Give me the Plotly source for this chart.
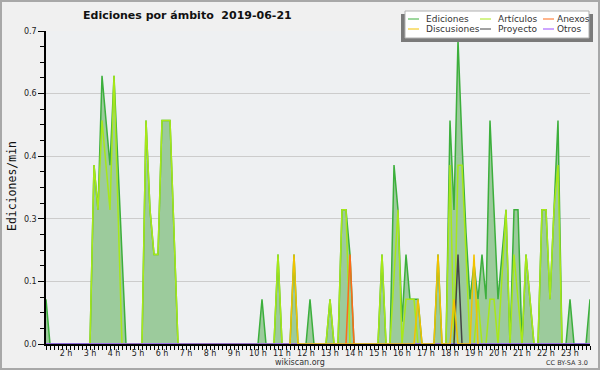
import plotly.graph_objects as go

# ---- data (minutes since 00:00, edits per minute) ----
ed_t = [70, 80,
        180, 190, 200, 210, 220, 230, 240, 250, 260, 270,
        310, 320, 330, 340, 350, 360, 370, 380, 390, 400,
        600, 610, 620,
        640, 650, 660,
        680, 690, 700,
        720, 730, 740,
        770, 780, 790,
        800, 810, 820, 830, 840,
        900, 910, 920,
        930, 940, 950, 960, 970, 980, 990, 1000, 1010,
        1040, 1050, 1060,
        1070, 1080, 1090, 1100, 1110, 1120, 1130, 1140, 1150, 1160, 1170, 1180,
        1190, 1200, 1210, 1220, 1230, 1240, 1250, 1260, 1270, 1280, 1290,
        1300, 1310, 1320, 1330, 1340, 1350, 1360,
        1370, 1380, 1390,
        1420, 1430]
ed_v = [0.1, 0,
        0, 0.4, 0.3, 0.6, 0.5, 0.4, 0.6, 0.4, 0.2, 0,
        0, 0.5, 0.3, 0.2, 0.2, 0.5, 0.5, 0.5, 0.25, 0,
        0, 0.1, 0,
        0, 0.2, 0,
        0, 0.2, 0,
        0, 0.1, 0,
        0, 0.1, 0,
        0, 0.3, 0.3, 0.2, 0,
        0, 0.2, 0,
        0, 0.4, 0.3, 0.05, 0.2, 0.1, 0.1, 0.1, 0,
        0, 0.2, 0,
        0, 0.5, 0.3, 0.68, 0.45, 0.25, 0.1, 0.18, 0.1, 0.2, 0.1, 0.5,
        0.3, 0.1, 0.2, 0.3, 0, 0.3, 0.3, 0, 0.2, 0.1, 0,
        0, 0.3, 0.3, 0.1, 0.3, 0.5, 0,
        0, 0.1, 0,
        0, 0.1]

art_t = [180, 190, 200, 210, 220, 230, 240, 250, 260,
         310, 320, 330, 340, 350, 360, 370, 380, 390, 400,
         640, 650, 660,
         770, 780, 790,
         800, 810, 820, 830,
         900, 910, 920,
         930, 940, 950, 960, 970, 980, 990, 1000,
         1070, 1080, 1090, 1100, 1110, 1120, 1130, 1140, 1150, 1160, 1170, 1180,
         1190, 1200, 1210, 1220, 1230, 1240, 1250, 1260, 1270, 1280, 1290,
         1300, 1310, 1320, 1330, 1340, 1350, 1360]
art_v = [0, 0.4, 0.3, 0.5, 0.4, 0.3, 0.6, 0.3, 0,
         0, 0.5, 0.3, 0.2, 0.2, 0.5, 0.5, 0.5, 0.25, 0,
         0, 0.2, 0,
         0, 0.1, 0,
         0, 0.3, 0.3, 0,
         0, 0.2, 0,
         0, 0.15, 0.3, 0, 0.1, 0.1, 0.1, 0,
         0, 0.4, 0, 0.4, 0.4, 0.2, 0, 0, 0.1, 0, 0, 0.1,
         0.1, 0, 0.15, 0.3, 0, 0.2, 0.1, 0, 0.2, 0.1, 0,
         0, 0.3, 0.3, 0.1, 0.3, 0.4, 0]

anx_t = [820, 830, 840]
anx_v = [0, 0.2, 0]

disc_t = [680, 690, 700, 990, 1000, 1010, 1040, 1050, 1060, 1080, 1090, 1100, 1130, 1140, 1150]
disc_v = [0, 0.2, 0, 0, 0.1, 0, 0, 0.2, 0, 0, 0.1, 0, 0, 0.2, 0]

proy_t = [1090, 1100, 1110]
proy_v = [0, 0.2, 0]

otros_t = [70, 1430]
otros_v = [0, 0]

hour_ticks = list(range(2, 24))
y_tickvals = [0, 0.14, 0.28, 0.42, 0.56, 0.7]
y_ticktext = ["0.0", "0.1", "0.3", "0.4", "0.6", "0.7"]

names = ["Ediciones", "Artículos", "Anexos", "Discusiones", "Proyecto", "Otros"]
colors = {"Ediciones": "#3caf3c", "Artículos": "#a8e818", "Anexos": "#ff6a1a",
          "Discusiones": "#f2c200", "Proyecto": "#444444", "Otros": "#9b4dff"}

# ---- figure ----
W, H = 600, 370
L, R, T, B = 46, 10, 31, 26
PW, PH = W - L - R, H - T - B


def px(x):
    return (x - L) / PW


def py(y):
    return (H - B - y) / PH


fig = go.Figure()
fig.add_trace(go.Scatter(x=ed_t, y=ed_v, mode="lines", name="Ediciones",
                         line=dict(color=colors["Ediciones"], width=1.5),
                         fill="tozeroy", fillcolor="#9ccb9c"))
fig.add_trace(go.Scatter(x=art_t, y=art_v, mode="lines", name="Artículos",
                         line=dict(color=colors["Artículos"], width=1.5)))
fig.add_trace(go.Scatter(x=otros_t, y=otros_v, mode="lines", name="Otros",
                         line=dict(color=colors["Otros"], width=1.5)))
fig.add_trace(go.Scatter(x=proy_t, y=proy_v, mode="lines", name="Proyecto",
                         line=dict(color=colors["Proyecto"], width=1.5)))
fig.add_trace(go.Scatter(x=anx_t, y=anx_v, mode="lines", name="Anexos",
                         line=dict(color=colors["Anexos"], width=1.5)))
fig.add_trace(go.Scatter(x=disc_t, y=disc_v, mode="lines", name="Discusiones",
                         line=dict(color=colors["Discusiones"], width=1.5)))

shapes = []
annotations = []

# outer border
shapes.append(dict(type="rect", xref="paper", yref="paper",
                   x0=px(1), x1=px(W - 1), y0=py(H - 1), y1=py(1),
                   line=dict(color="#a8a8a8", width=2), fillcolor="rgba(0,0,0,0)", layer="above"))

# legend box with shadow
shapes.append(dict(type="rect", xref="paper", yref="paper",
                   x0=px(401), x1=px(593), y0=py(42), y1=py(14),
                   line=dict(width=0), fillcolor="#7a7a7a", layer="above"))
shapes.append(dict(type="rect", xref="paper", yref="paper",
                   x0=px(405), x1=px(589), y0=py(38), y1=py(11),
                   line=dict(color="#b0b0b0", width=1), fillcolor="#ffffff", layer="above"))

leg_pos = [(408, 19), (480, 19), (543, 19), (408, 29), (480, 29), (543, 29)]
leg_text_dx = [16, 16, 12, 16, 16, 12]
for nm, (lx, ly), dx in zip(names, leg_pos, leg_text_dx):
    shapes.append(dict(type="line", xref="paper", yref="paper",
                       x0=px(lx), x1=px(lx + 11), y0=py(ly), y1=py(ly),
                       line=dict(color=colors[nm], width=1), layer="above"))
    annotations.append(dict(text=nm, xref="paper", yref="paper", x=px(lx + dx), y=py(ly),
                            xanchor="left", yanchor="middle", showarrow=False,
                            font=dict(family="DejaVu Sans", size=9, color="#333333")))

# title
annotations.append(dict(text="Ediciones por ámbito\u00a0\u00a02019-06-21", xref="paper", yref="paper",
                        x=px(187), y=py(15), xanchor="center", yanchor="middle", showarrow=False,
                        font=dict(family="DejaVu Sans", size=11, color="#111111", weight="bold")))
# y axis title
annotations.append(dict(text="Ediciones/min", xref="paper", yref="paper",
                        x=px(12), y=py(186), xanchor="center", yanchor="middle", showarrow=False,
                        textangle=-90,
                        font=dict(family="DejaVu Sans Mono", size=11.5, color="#111111")))
# footer
annotations.append(dict(text="wikiscan.org", xref="paper", yref="paper",
                        x=px(300), y=py(362), xanchor="center", yanchor="middle", showarrow=False,
                        font=dict(family="DejaVu Sans", size=8, color="#333333")))
annotations.append(dict(text="CC BY-SA 3.0", xref="paper", yref="paper",
                        x=px(590), y=py(363), xanchor="right", yanchor="middle", showarrow=False,
                        font=dict(family="DejaVu Sans", size=6.5, color="#333333")))

fig.update_layout(
    width=W, height=H,
    margin=dict(l=L, r=R, t=T, b=B, pad=0),
    paper_bgcolor="#f0f0f0",
    plot_bgcolor="#eef0f2",
    showlegend=False,
    shapes=shapes,
    annotations=annotations,
    xaxis=dict(range=[70, 1430], tickmode="array",
               tickvals=[h * 60 for h in hour_ticks],
               ticktext=[f"{h} h" for h in hour_ticks],
               ticks="outside", ticklen=4, tickwidth=1, tickcolor="#000000",
               ticklabelstandoff=-3,
               minor=dict(dtick=10, tick0=0, ticks="outside", ticklen=4, tickwidth=1,
                          tickcolor="#000000", showgrid=False),
               showgrid=False, zeroline=False,
               showline=True, linecolor="#000000", linewidth=1.5,
               tickfont=dict(family="DejaVu Sans", size=8, color="#222222"),
               fixedrange=True),
    yaxis=dict(range=[0, 0.7], tickmode="array",
               tickvals=y_tickvals, ticktext=y_ticktext,
               ticks="outside", ticklen=6, tickwidth=1, tickcolor="#000000",
               minor=dict(dtick=0.035, tick0=0, ticks="outside", ticklen=4, tickwidth=1,
                          tickcolor="#000000", showgrid=False),
               showgrid=True, gridcolor="#cccccc", gridwidth=1,
               zeroline=False,
               showline=True, linecolor="#000000", linewidth=1.5,
               tickfont=dict(family="DejaVu Sans", size=8, color="#222222"),
               fixedrange=True),
)

fig.write_html("out.html", config={"displayModeBar": False},
               post_script="document.body.style.margin='0';document.body.style.overflow='hidden';")
